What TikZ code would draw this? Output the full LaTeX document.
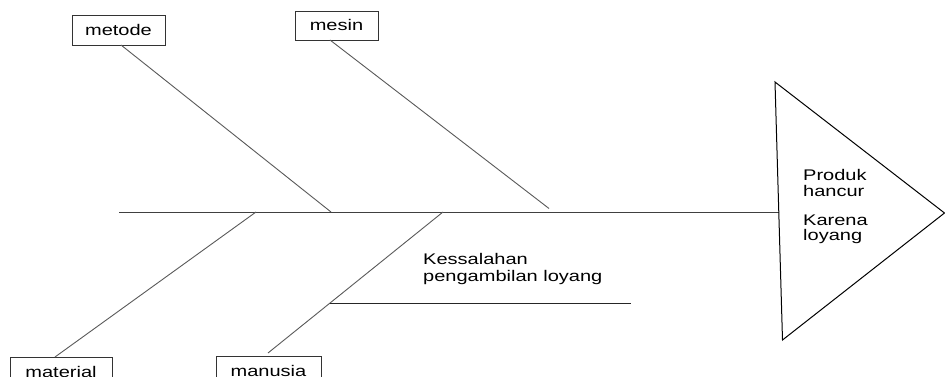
\documentclass[tikz,border=0pt]{standalone}
\usepackage{fontspec}
\setmainfont{Liberation Sans}[FakeStretch=1.3]
\begin{document}
\begin{tikzpicture}[x=1pt,y=1pt,
  catbox/.style={draw=black!80,line width=0.9pt,minimum height=30pt,inner sep=0pt,font=\fontsize{15.4}{17}\selectfont},
  bone/.style={draw=black!65,line width=0.9pt},
  lbl/.style={anchor=base west,inner sep=0pt,font=\fontsize{15.4}{17}\selectfont}]
\useasboundingbox (0,0) rectangle (945,377);
% category boxes
\node[catbox,minimum width=93pt] (metode) at (118.5,347) {metode};
\node[catbox,minimum width=83pt,minimum height=29pt] (mesin) at (336.5,351.5) {mesin};
\node[catbox,minimum width=102pt] (material) at (61,5) {material};
\node[catbox,minimum width=105pt] (manusia) at (268.5,6) {manusia};
% spine
\coordinate (sL) at (119,165);
\coordinate (sR) at (778.5,165);
\draw[bone,draw=black!75] (sL) -- (sR);
% branch points
\coordinate (bMetode) at (331,165);
\coordinate (bMesin) at (549,168.5);
\coordinate (bMaterial) at (256,165);
\coordinate (bManusia) at (443,165);
\coordinate (tMetode) at (121,332);
\coordinate (tMesin) at (330,337);
\coordinate (tMaterial) at (55,20);
\coordinate (tManusia) at (268,24);
\draw[bone] (tMetode) -- (bMetode);
\draw[bone] (tMesin) -- (bMesin);
\draw[bone] (bMaterial) -- (tMaterial);
\draw[bone] (bManusia) -- (tManusia);
% sub-branch
\coordinate (subL) at (330,74);
\coordinate (subR) at (631,74);
\draw[line width=0.9pt,draw=black!85] (subL) -- (subR);
\node[lbl] (k1) at (423,112) {Kessalahan};
\node[lbl] (k2) at (423,95) {pengambilan loyang};
% head triangle
\coordinate (hT) at (775,295);
\coordinate (hB) at (782.5,37);
\coordinate (hR) at (944.5,164);
\draw[line width=1pt,line join=miter] (hT) -- (hR) -- (hB) -- cycle;
\node[lbl] (e1) at (803,196) {Produk};
\node[lbl] (e2) at (803,180) {hancur};
\node[lbl] (e3) at (803,151) {Karena};
\node[lbl] (e4) at (803,136) {loyang};
\end{tikzpicture}
\end{document}
